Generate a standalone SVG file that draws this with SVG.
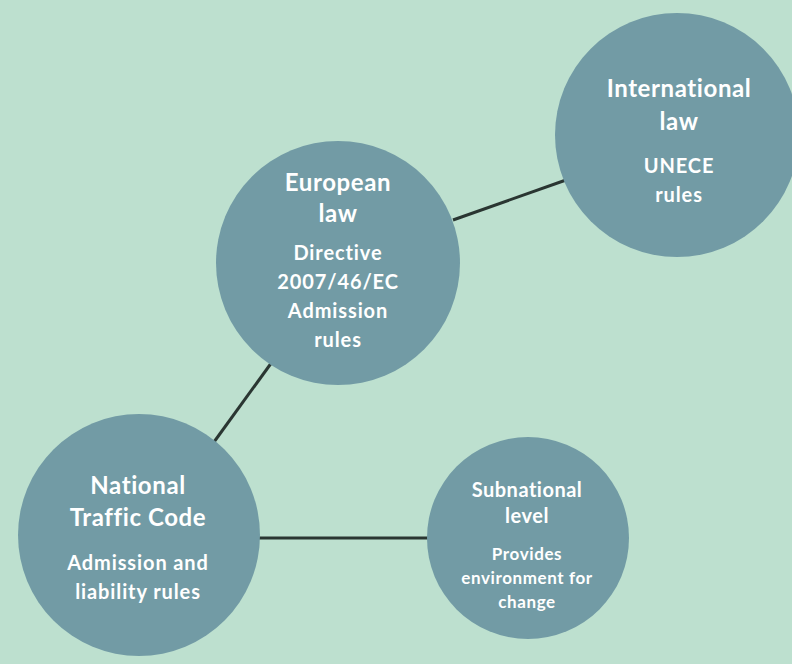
<svg xmlns="http://www.w3.org/2000/svg" width="792" height="664" viewBox="0 0 792 664">
<style>
.node{fill:#729ba5}
.t{font-family:Lato,"Liberation Sans",sans-serif;font-weight:700;fill:#ffffff;text-anchor:middle}
.h{font-size:24px;letter-spacing:0.6px}
.s{font-size:20px;letter-spacing:0.9px}
.hs{font-size:20px;letter-spacing:0.5px}
.ss{font-size:17px;letter-spacing:0.6px}
.c{stroke:#2a3632;stroke-width:3;fill:none}
</style>
<rect width="792" height="664" fill="#bde0cf"/>
<g id="connectors">
<line class="c" x1="453" y1="220" x2="566" y2="180"/>
<line class="c" x1="272" y1="362" x2="214" y2="442"/>
<line class="c" x1="258" y1="538" x2="430" y2="538"/>
</g>
<g id="european">
<circle class="node" cx="338" cy="263" r="122"/>
<text class="t h" x="338" y="191">European</text>
<text class="t h" x="338" y="222">law</text>
<text class="t s" x="338" y="260">Directive</text>
<text class="t s" x="338" y="289">2007/46/EC</text>
<text class="t s" x="338" y="318">Admission</text>
<text class="t s" x="338" y="347">rules</text>
</g>
<g id="international">
<circle class="node" cx="677" cy="135" r="122"/>
<text class="t h" x="679" y="97">International</text>
<text class="t h" x="679" y="130">law</text>
<text class="t s" x="679" y="173">UNECE</text>
<text class="t s" x="679" y="202">rules</text>
</g>
<g id="national">
<circle class="node" cx="139" cy="535" r="121"/>
<text class="t h" x="138" y="494">National</text>
<text class="t h" x="138" y="526">Traffic Code</text>
<text class="t s" x="138" y="570">Admission and</text>
<text class="t s" x="138" y="599">liability rules</text>
</g>
<g id="subnational">
<circle class="node" cx="528" cy="538" r="101"/>
<text class="t hs" x="527" y="497">Subnational</text>
<text class="t hs" x="527" y="523">level</text>
<text class="t ss" x="527" y="560">Provides</text>
<text class="t ss" x="527" y="584">environment for</text>
<text class="t ss" x="527" y="608">change</text>
</g>
</svg>
